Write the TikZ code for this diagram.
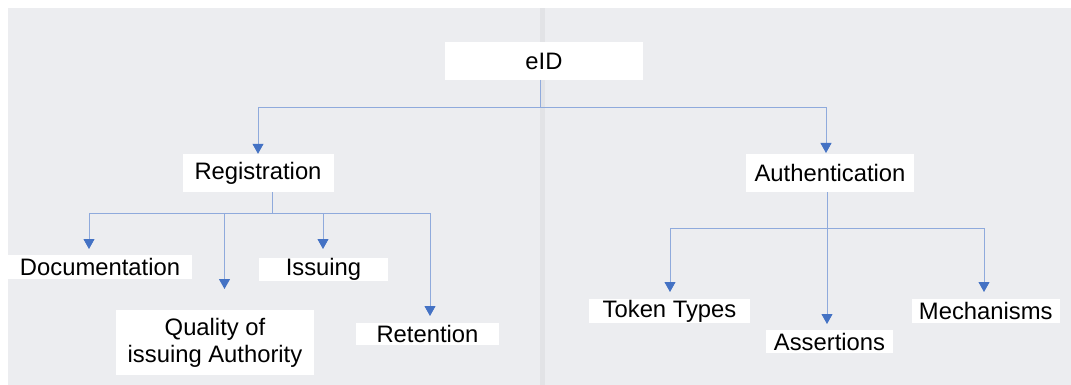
\documentclass[tikz,border=0pt]{standalone}
\usepackage{fontspec}
\setmainfont{Liberation Sans}
\usetikzlibrary{arrows.meta}
\definecolor{panel}{HTML}{ECEDF0}
\definecolor{stripe}{HTML}{E2E3E6}
\definecolor{linec}{HTML}{8FAADC}
\definecolor{arrc}{HTML}{4472C4}
\tikzset{
  box/.style={fill=white, inner sep=0pt, align=center, font=\fontsize{23.8}{27}\selectfont},
  conn/.style={draw=linec, line width=0.9pt},
  arr/.style={conn, -{Triangle[length=10pt,width=11pt,fill=arrc,color=arrc]}}
}
\begin{document}
\begin{tikzpicture}[x=1pt,y=-1pt]
\useasboundingbox (0,0) rectangle (1071,385);
\fill[white] (0,0) rectangle (1071,385);
\fill[panel] (8,8) rectangle (1071,385);
\fill[stripe] (540,8) rectangle (545,385);

% nodes
\node[box, minimum width=198pt, minimum height=38pt] (eid) at (544,61) {eID};
\node[box, minimum width=151pt, minimum height=38pt] (reg) at (258,173) {Registration};
\node[box, minimum width=168pt, minimum height=38pt] (auth) at (830,173) {Authentication};
\node[box, minimum width=184pt, minimum height=24pt] (doc) at (100,267) {Documentation};
\node[box, minimum width=129pt, minimum height=23pt] (iss) at (323.5,269.5) {Issuing};
\node[box, minimum width=198pt, minimum height=65pt] (qual) at (215,342.5) {Quality of\\issuing Authority};
\node[box, minimum width=143pt, minimum height=22pt] (ret) at (427.5,334) {Retention};
\node[box, minimum width=161pt, minimum height=24pt] (tok) at (669.5,311) {Token Types};
\node[box, minimum width=127pt, minimum height=23pt] (ass) at (829.5,341.5) {Assertions};
\node[box, minimum width=148pt, minimum height=24pt] (mech) at (985.75,311) {Mechanisms};

% junction and tip coordinates
\coordinate (eidb) at (540,80);
\coordinate (eidj) at (540,107);
\coordinate (regb) at (272,192);
\coordinate (regj) at (272,213);
\coordinate (authb) at (827,192);
\coordinate (authj) at (827,228);
\coordinate (tdoc) at (89,249);
\coordinate (tqual) at (224.5,289);
\coordinate (tiss) at (323,249);
\coordinate (tret) at (430,316);
\coordinate (ttok) at (670,292);
\coordinate (tass) at (827,324);
\coordinate (tmech) at (984,292);

% connectors
\draw[conn] (eidb) -- (eidj);
\draw[arr] (eidj) -| (reg.north -| 258,0);
\draw[arr] (eidj) -| (826,153);

\draw[conn] (regb) -- (regj);
\draw[arr] (regj) -| (tdoc);
\draw[arr] (regj) -| (tqual);
\draw[arr] (regj) -| (tiss);
\draw[arr] (regj) -| (tret);

\draw[arr] (authb) -- (tass);
\draw[arr] (authj) -| (ttok);
\draw[arr] (authj) -| (tmech);
\end{tikzpicture}
\end{document}
